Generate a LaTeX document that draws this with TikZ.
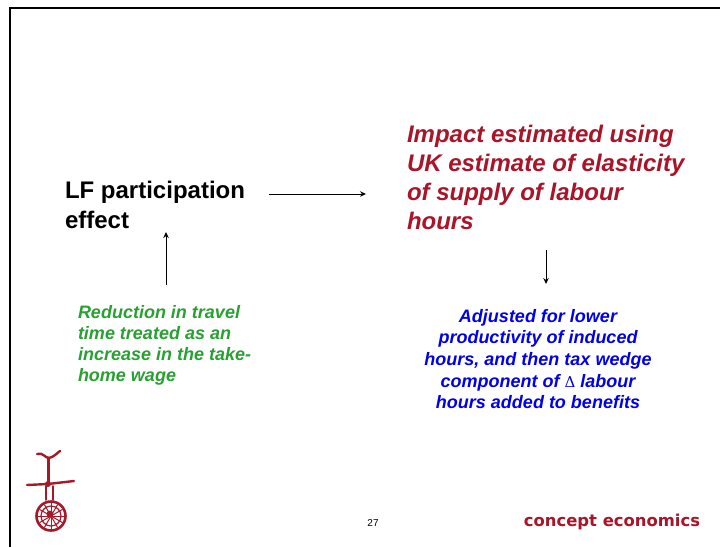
\documentclass[tikz,border=0pt]{standalone}
\usepackage{fontspec}
\setmainfont{Liberation Sans}
\definecolor{crimson}{RGB}{170,20,40}
\definecolor{logored}{RGB}{165,25,40}
\definecolor{greentxt}{RGB}{40,160,50}
\definecolor{bluetxt}{RGB}{0,0,235}
\usetikzlibrary{arrows.meta}
\tikzset{
  lab/.style={inner sep=0pt,outer sep=0pt,font=\bfseries},
  conn/.style={draw=black,line width=1pt,-{Stealth[length=6pt,width=5.5pt]}},
  logoline/.style={draw=logored,line cap=round,line join=round}
}
\begin{document}
\begin{tikzpicture}[x=1pt,y=-1pt]
\useasboundingbox (0,0) rectangle (720,547);
\fill[white] (0,0) rectangle (720,547);
\draw[black,line width=2.4pt] (10,547) -- (10,8) -- (720,8);
\node[lab,anchor=north west,align=left,font=\bfseries\fontsize{24}{30}\selectfont] (lf) at (65,181) {LF participation\\effect};
\node[lab,anchor=north west,align=left,text=crimson,font=\bfseries\itshape\fontsize{24}{29}\selectfont] (impact) at (407,125) {Impact estimated using\\UK estimate of elasticity\\of supply of labour\\hours};
\node[lab,anchor=north west,align=left,text=greentxt,font=\bfseries\itshape\fontsize{18}{21.3}\selectfont] (red) at (78,305) {Reduction in travel\\time treated as an\\increase in the take-\\home wage};
\node[lab,anchor=north,align=center,text=bluetxt,font=\bfseries\itshape\fontsize{18}{21.7}\selectfont] (adj) at (538,309) {Adjusted for lower\\productivity of induced\\hours, and then tax wedge\\component of {\normalfont\upshape\fontspec{DejaVu Serif}\fontsize{15}{15}\selectfont Δ} labour\\hours added to benefits};
\node[inner sep=0pt,font=\fontsize{10}{12}\selectfont] (pg) at (373,523) {27};
\node[lab,anchor=center,text=crimson,font=\fontspec{DejaVu Sans}\bfseries\fontsize{16.4}{18}\selectfont] (ce) at (612,522) {concept economics};
\coordinate (a1) at (269,194); \coordinate (a2) at (366,194);
\coordinate (b1) at (166,285); \coordinate (b2) at (166,232);
\coordinate (c1) at (546,250); \coordinate (c2) at (546,284);
\draw[conn] (a1) -- (a2);
\draw[conn] (b1) -- (b2);
\draw[conn] (c1) -- (c2);
% logo
\draw[logoline,line width=2.4pt] (37,454) .. controls (43,452) and (45,458) .. (49,458) .. controls (54,457) and (57,453) .. (60,451);
\draw[logoline,line width=3pt] (48,458) -- (48,484);
\draw[logoline,line width=2.4pt] (27,485) -- (48,484) -- (74,481);
\fill[logored] (48,484) circle (3);
\draw[logoline,line width=1.6pt] (46,486) -- (46,500) (53,486) -- (53,500);
\draw[logoline,line width=2.6pt] (51,516) circle (14.5);
\draw[logoline,line width=1.2pt] (51,516) circle (10);
\foreach \t in {0,30,...,330}{\draw[logoline,line width=1pt] (51,516) -- ++(\t:13);}
\fill[logored] (50,514) circle (3.5);
\end{tikzpicture}
\end{document}
